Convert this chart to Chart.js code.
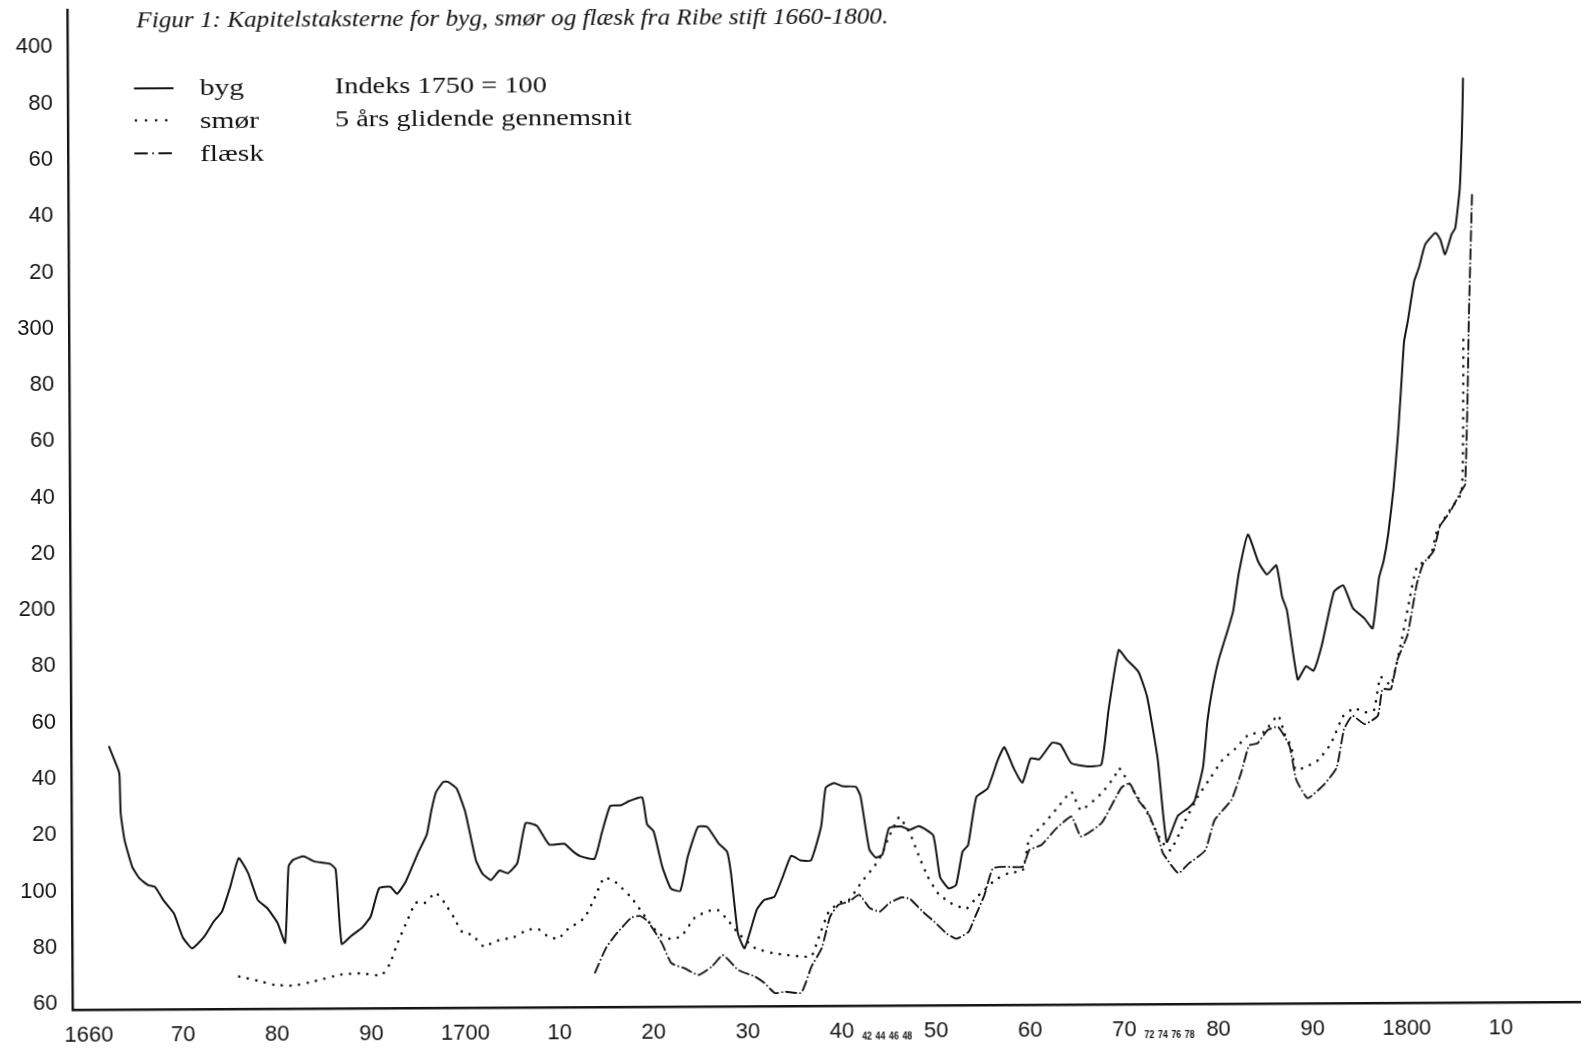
<!DOCTYPE html>
<html lang="da">
<head>
<meta charset="utf-8">
<title>Kapitelstaksterne for byg, smør og flæsk fra Ribe stift 1660-1800</title>
<script src="https://cdn.jsdelivr.net/npm/chart.js@4.4.1/dist/chart.umd.min.js"></script>
<style>
  html, body { margin: 0; padding: 0; background: #fff; overflow: hidden; }
  /* the scanned page is tilted a little; the whole figure is turned with it */
  #wrap { width: 1581px; height: 1050px; transform: rotate(-0.3deg); transform-origin: 50% 50%; }
  canvas { display: block; }
</style>
</head>
<body>
<div id="wrap"><canvas id="chart" width="1581" height="1050"></canvas></div>
<script>
/* Figur 1 — kapitelstakster, Ribe stift. Index 1750 = 100, 5-year moving average.
 * Values as [year, index] pairs.
 */

// ── Data ──────────────────────────────────────────────────────────────────────

const bygData = [
  [1662.3,151.3],[1663.3,142.8],[1663.4,140.5],[1663.5,127.5],[1663.9,118],[1664.7,108.5],
  [1665.5,104.3],[1666.4,102],[1667.1,101.4],[1668,96.6],[1669.1,91.9],[1670,83.6],[1671,79.5],
  [1672.3,83.6],[1673.3,88.9],[1674.2,92.5],[1675.1,101.4],[1676,111.5],[1677,106.1],[1678,96.6],
  [1679,93.7],[1680.1,88.4],[1680.9,81.3],[1681.3,108.5],[1681.8,110.8],[1682.9,112],[1684,110.2],
  [1685.7,109.3],[1686.3,107.3],[1686.9,80.8],[1687.9,83.6],[1689.1,86.6],[1690,90.5],[1690.9,100.5],
  [1692.1,101],[1692.8,98.5],[1693.7,102.6],[1695.1,113.3],[1696,119.5],[1696.5,128],[1697,134.5],
  [1697.8,138.2],[1698.3,138.2],[1699.2,135.8],[1700.1,127.5],[1701.2,110.3],[1701.9,105.5],
  [1702.8,103.2],[1703.7,106.6],[1704.6,105.6],[1705.6,109.2],[1706.5,123.4],[1707.7,122.4],
  [1709,115.7],[1710.6,116],[1711.5,113.3],[1712.3,111.5],[1713.8,110.6],[1714.6,119.8],
  [1715.5,129.3],[1716.6,129.5],[1717.5,131],[1718.9,132.3],[1719.4,122.8],[1720.1,120.2],
  [1721,107.6],[1721.9,99.9],[1722.9,99],[1723.7,111],[1724.8,121.7],[1725.8,121.7],[1727,115.8],
  [1727.9,112.8],[1728.3,105.1],[1729,83.8],[1729.7,78.5],[1731,92.1],[1731.8,95.6],[1732.9,96.8],
  [1733.8,103.9],[1734.7,111.3],[1735.7,109.6],[1736.8,109.6],[1737.9,121.7],[1738.4,135.3],
  [1739.3,137.1],[1740.2,135.9],[1741.6,135.7],[1742.1,132.3],[1743,113.4],[1743.7,110.5],
  [1744.4,111.6],[1745.1,120.9],[1746.4,121.5],[1747.3,120.3],[1748.3,121.6],[1749.8,118.3],
  [1750.5,103.5],[1751.4,99.4],[1752.2,100.6],[1752.9,112.4],[1753.5,114.8],[1754.4,131.8],
  [1755.6,134.8],[1756.7,144.9],[1757.4,149.5],[1758.4,141.9],[1759.3,136.8],[1760.2,145.5],
  [1761.1,145.1],[1762.5,151],[1763.4,150.2],[1764.5,143.7],[1766.2,142.5],[1767.7,143.1],
  [1768.5,162.6],[1769.6,183.8],[1770.5,180.2],[1771.7,176],[1772.6,167.1],[1773.7,144.7],
  [1774.6,115.5],[1775.8,124.8],[1776.9,127.5],[1777.6,130.2],[1778.5,142],[1779,158.6],
  [1779.5,169.2],[1780.2,179.9],[1781.3,191.7],[1781.8,197.6],[1782.4,210.7],[1783.4,224.6],
  [1784.5,214.8],[1785.4,210.4],[1786.4,213.6],[1787,202.4],[1787.5,197.6],[1788.6,173],
  [1789.5,177.7],[1790.3,176.1],[1791.2,185.3],[1792.5,204],[1793.5,206.4],[1794.5,198.3],
  [1795.7,194.7],[1796.6,191],[1797.3,209],[1797.8,214.9],[1798.3,224.4],[1798.9,240.9],
  [1799.4,259.9],[1799.8,278.8],[1800.1,293],[1800.5,300.1],[1801.2,314.3],[1801.7,319],
  [1802.4,327.4],[1803.5,331.5],[1804,329.1],[1804.5,323.8],[1805.2,330.9],[1805.6,333.2],
  [1806.1,347.4],[1806.35,366.4],[1806.45,378.2],[1806.5,386.3],
];

const smorData = [
  [1676,69.4],[1678.3,67.6],[1679.7,66.4],[1681.8,66.1],[1684,67.6],[1686.8,69.9],[1688.9,70.3],
  [1691.1,69.6],[1692,73.6],[1692.8,80.7],[1693.9,89.1],[1694.8,95.3],[1695.7,95.1],[1696.9,98.8],
  [1697.8,95.5],[1698.8,90.2],[1699.7,84.9],[1700.8,83.7],[1702,79.6],[1703.1,81.3],[1703.8,82],
  [1705.2,82.9],[1706.7,85.5],[1707.9,85.5],[1708.8,83.1],[1709.9,82.2],[1710.9,85.5],[1712.7,89.6],
  [1713.8,96.7],[1714.8,103.8],[1715.9,102.6],[1717.7,96.7],[1719.1,90.2],[1720.5,84.1],[1721.8,82],
  [1723,82.9],[1724.4,89.4],[1725.8,91.8],[1726.9,92.1],[1727.9,88.7],[1729,84],[1730.8,78.6],
  [1732.6,76.8],[1734,76.1],[1735.7,75.5],[1736.8,75.5],[1737.5,81.4],[1738.6,90.9],[1739.7,94.5],
  [1740.8,95.5],[1742.2,102],[1743.5,107.3],[1744.3,111.4],[1745.1,117.9],[1746.2,124.9],
  [1746.7,122.6],[1747.4,118.5],[1748.3,110.7],[1749.2,103.6],[1750.3,97.6],[1751.7,94],
  [1753.3,92.2],[1754.4,96.3],[1755.2,98.7],[1756.3,102.2],[1757.7,104.6],[1759.3,105.8],
  [1760,117],[1761.3,121.2],[1763.1,128.2],[1764.5,133.5],[1765.5,127],[1767.7,132.9],
  [1769.1,138.8],[1769.6,141.8],[1771.2,133.3],[1772.6,125.6],[1774,116],[1775,112.5],
  [1776.5,122.5],[1777.9,131.4],[1779.4,138.8],[1780.6,144.7],[1781.9,148.4],[1783.4,153.6],
  [1785,154.4],[1786.5,160.3],[1787.2,153.6],[1787.9,149.1],[1788.3,141],[1789.3,141.7],
  [1790.7,144.2],[1792.1,150.1],[1793.4,159.8],[1794.6,162.7],[1795.7,161.2],[1796.7,162],
  [1797.4,173.8],[1798.5,170.9],[1799.6,185.7],[1800.5,200.6],[1801.3,212.4],[1802.8,216.8],
  [1803.5,225.7],[1804.9,233.1],[1806.1,239],[1806.3,256.8],[1806.35,271.7],[1806.4,296],
];

const flaeskData = [
  [1713.8,70.1],[1715,79],[1716.2,84.3],[1717.7,89.6],[1718.6,90.2],[1719.4,88.4],[1720.9,80.6],
  [1721.9,73.4],[1723.3,71.5],[1724.8,69.1],[1726.2,72],[1727.4,76.1],[1729,70.8],[1730.8,68.4],
  [1731.8,66.1],[1732.9,62.5],[1734,63],[1735.7,62.6],[1736.8,71.9],[1737.9,78.4],[1738.8,89.6],
  [1739.7,93.8],[1740.8,94.9],[1741.9,97.3],[1743,92.6],[1744.1,91.3],[1745.1,94.3],[1746.4,96.3],
  [1747.3,95.7],[1748.7,91],[1749.9,87.5],[1751.2,83.3],[1752.2,81.5],[1753.5,83.9],[1754.2,89.2],
  [1755.2,96.9],[1756.1,106.4],[1757.4,107],[1759.3,107],[1760,112.9],[1761.3,114.7],[1762.9,120.6],
  [1764.5,124.7],[1765.5,117.6],[1767.7,122.4],[1769.8,134.8],[1770.7,136.4],[1771.6,130.4],
  [1772.6,126.2],[1773.7,117],[1774.2,111.5],[1775.8,104.4],[1776.9,107.7],[1778.7,112.5],
  [1779.7,123.2],[1781.5,130.3],[1782.6,140.5],[1783.4,149.6],[1784.3,150.4],[1785.4,155.1],
  [1786.5,156.2],[1787.7,149.4],[1788.4,137.4],[1789.6,130.8],[1791.4,135.8],[1792.7,141.6],
  [1793.5,155.2],[1794.4,160],[1795.7,157],[1797.1,160],[1797.6,169.4],[1798.5,169.4],
  [1799.2,179.8],[1800.3,188.7],[1801.3,206.5],[1802,213.9],[1803.1,218.3],[1803.8,227.2],
  [1804.9,232.4],[1806.1,239.8],[1806.5,242],[1806.8,271.7],[1807,302.5],[1807.4,345.3],
];

const seriesNames = ["byg", "smør", "flæsk"];

const xTickValues = [1660,1670,1680,1690,1700,1710,1720,1730,1740,1750,1760,1770,1780,1790,1800,1810];
const xTickLabels = ["1660","70","80","90","1700","10","20","30","40","50","60","70","80","90","1800","10"];

const yTickValues = [60,80,100,120,140,160,180,200,220,240,260,280,300,320,340,360,380,400];
const yTickLabels = ["60","80","100","20","40","60","80","200","20","40","60","80","300","20","40","60","80","400"];

// small, squeezed year marks printed after "40" and "70"
const minorYearLabels = [
  { after: 1740, labels: ["42", "44", "46", "48"] },
  { after: 1770, labels: ["72", "74", "76", "78"] },
];

const TITLE = "Figur 1: Kapitelstaksterne for byg, smør og flæsk fra Ribe stift 1660-1800.";
const NOTE_LINES = ["Indeks 1750 = 100", "5 års glidende gennemsnit"];

// ── Styles ────────────────────────────────────────────────────────────────────

const INK = "#141414";
const SANS = '"Liberation Sans", Arial, sans-serif';
const SERIF = '"Liberation Serif", "Times New Roman", serif';

const lineStyles = [
  { borderWidth: 2,   borderDash: [],              borderCapStyle: "round", legendDash: [] },
  { borderWidth: 2.6, borderDash: [0.1, 8.6],      borderCapStyle: "round", legendDash: [0.1, 10] },
  { borderWidth: 1.9, borderDash: [10, 4, 0.1, 4], borderCapStyle: "round", legendDash: [12, 6, 0.1, 6, 12] },
];

// ── Helpers ───────────────────────────────────────────────────────────────────

function toPoints(rows) {
  return rows.map(([x, y]) => ({ x, y }));
}

// draw text squeezed/stretched horizontally to a printed width
function fitText(ctx, text, x, y, font, width) {
  ctx.font = font;
  const w = ctx.measureText(text).width;
  ctx.save();
  ctx.translate(x, y);
  ctx.scale(width / w, 1);
  ctx.fillText(text, 0, 0);
  ctx.restore();
  return width / w;
}

// Chart.js reserves half a label height at the scale ends; the print does not
function noEndPadding(s) {
  s.paddingTop = 0;
  s.paddingBottom = 0;
  s.paddingLeft = 0;
  s.paddingRight = 0;
}

// ── Figure text, legend and minor year marks ──────────────────────────────────

const figureText = {
  id: "figureText",
  afterDraw(chart) {
    const ctx = chart.ctx;
    ctx.save();
    ctx.fillStyle = INK;
    ctx.strokeStyle = INK;
    ctx.textAlign = "left";
    ctx.textBaseline = "alphabetic";

    fitText(ctx, TITLE, 139, 23.5, `italic 23px ${SERIF}`, 752);

    // notes to the right of the legend
    const noteFont = `23px ${SERIF}`;
    const k = fitText(ctx, NOTE_LINES[1], 337, 123.5, noteFont, 297);
    ctx.save();
    ctx.translate(337, 90.5);
    ctx.scale(k, 1);
    ctx.fillText(NOTE_LINES[0], 0, 0);
    ctx.restore();

    // legend: sample line + name
    const rowsY = [85, 117, 150];
    const textY = [91.5, 124.5, 158];
    chart.data.datasets.forEach((ds, i) => {
      const st = lineStyles[i];
      ctx.save();
      ctx.lineWidth = st.borderWidth;
      ctx.lineCap = st.borderCapStyle;
      ctx.setLineDash(st.legendDash);
      ctx.beginPath();
      if (i === 1) {
        ctx.moveTo(138, rowsY[i]);
        ctx.lineTo(169, rowsY[i]);
      } else {
        ctx.moveTo(137, rowsY[i]);
        ctx.lineTo(175, rowsY[i]);
      }
      ctx.stroke();
      ctx.restore();

      ctx.save();
      ctx.font = `24px ${SERIF}`;
      ctx.translate(202, textY[i]);
      ctx.scale(k, 1);
      ctx.fillText(ds.label, 0, 0);
      ctx.restore();
    });

    // squeezed two-digit year marks
    const xs = chart.scales.x;
    ctx.font = `bold 11px ${SANS}`;
    ctx.textAlign = "center";
    const baseY = xs.top + 34;
    minorYearLabels.forEach(g => {
      const x0 = xs.getPixelForValue(g.after) + 25;
      g.labels.forEach((t, i) => {
        ctx.save();
        ctx.translate(x0 + i * 13.4, baseY);
        ctx.scale(0.8, 1);
        ctx.fillText(t, 0, 0);
        ctx.restore();
      });
    });

    ctx.restore();
  },
};

// ── Chart ─────────────────────────────────────────────────────────────────────

const datasets = [bygData, smorData, flaeskData].map((rows, i) => ({
  label: seriesNames[i],
  data: toPoints(rows),
  borderColor: INK,
  borderWidth: lineStyles[i].borderWidth,
  borderDash: lineStyles[i].borderDash,
  borderCapStyle: lineStyles[i].borderCapStyle,
  borderJoinStyle: "round",
  pointRadius: 0,
  tension: 0.15,
  fill: false,
}));

new Chart(document.getElementById("chart").getContext("2d"), {
  type: "line",
  data: { datasets },
  options: {
    responsive: false,
    animation: false,
    devicePixelRatio: 1,
    layout: { padding: { top: 6, right: 0, bottom: 0, left: 0 } },
    plugins: {
      legend: { display: false },
      tooltip: { enabled: false },
    },
    scales: {
      x: {
        type: "linear",
        min: 1658.27,
        max: 1818.79,
        afterBuildTicks: s => { s.ticks = xTickValues.map(value => ({ value })); },
        afterFit: s => { s.height = 44; noEndPadding(s); },
        grid: { display: false, drawTicks: false },
        border: { display: true, color: INK, width: 2.6 },
        ticks: {
          autoSkip: false,
          maxRotation: 0,
          padding: 13,
          color: INK,
          font: { family: SANS, size: 22 },
          callback: (v, i) => xTickLabels[i],
        },
      },
      y: {
        type: "linear",
        min: 57.9,
        max: 413.29,
        afterBuildTicks: s => { s.ticks = yTickValues.map(value => ({ value })); },
        afterFit: s => { s.width = 70; noEndPadding(s); },
        grid: { display: false, drawTicks: false },
        border: { display: true, color: INK, width: 2.4 },
        ticks: {
          autoSkip: false,
          padding: 15,
          color: INK,
          font: { family: SANS, size: 22 },
          callback: (v, i) => yTickLabels[i],
        },
      },
    },
  },
  plugins: [figureText],
});
</script>
</body>
</html>
